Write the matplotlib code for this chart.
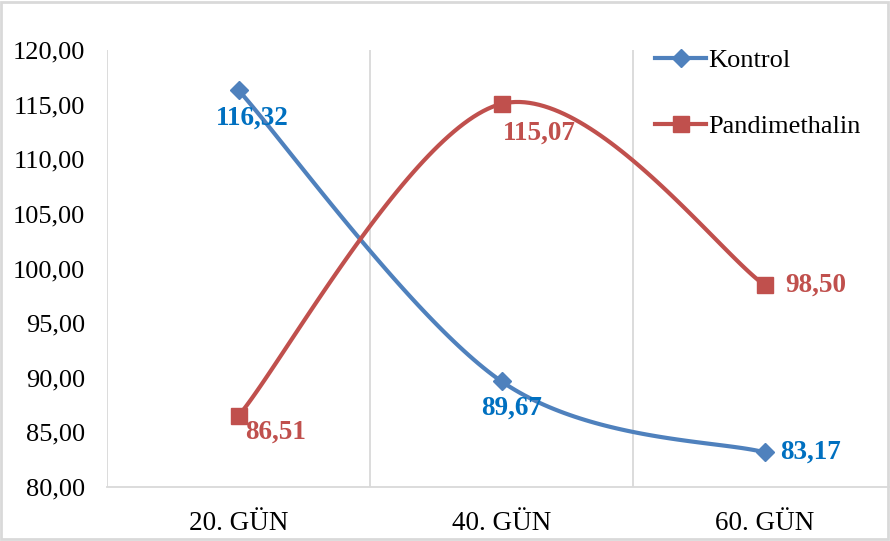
import numpy as np
import matplotlib.pyplot as plt
from matplotlib.patches import Rectangle

# Datos
gunler = ["20. GÜN", "40. GÜN", "60. GÜN"]
kontrol = [116.32, 89.67, 83.17]
pandimethalin = [86.51, 115.07, 98.50]
y_ticks = [80, 85, 90, 95, 100, 105, 110, 115, 120]

mavi = "#4F81BD"
kirmizi = "#C0504D"
mavi_etiket = "#0070C0"
gri = "#D9D9D9"

plt.rcParams["font.family"] = ["Liberation Serif", "DejaVu Serif"]


def yumusat(xs, ys, n=60):
    # Excel tarzi yumusatilmis cizgi (Catmull-Rom -> Bezier)
    p = np.column_stack([xs, ys]).astype(float)
    p = np.vstack([p[0], p, p[-1]])
    out = []
    for i in range(1, len(p) - 2):
        p0, p1, p2, p3 = p[i - 1], p[i], p[i + 1], p[i + 2]
        c1 = p1 + (p2 - p0) / 6
        c2 = p2 - (p3 - p1) / 6
        t = np.linspace(0, 1, n)[:, None]
        seg = ((1 - t) ** 3) * p1 + 3 * ((1 - t) ** 2) * t * c1 + 3 * (1 - t) * t ** 2 * c2 + t ** 3 * p2
        out.append(seg)
    s = np.vstack(out)
    return s[:, 0], s[:, 1]


fig = plt.figure(figsize=(8.9, 5.41), dpi=100)
ax = fig.add_axes([107 / 890, 1 - 487 / 541, 789 / 890, 437 / 541])

x = np.arange(len(gunler))

kx, ky = yumusat(x, kontrol)
px, py = yumusat(x, pandimethalin)

ax.plot(kx, ky, color=mavi, lw=3, solid_capstyle="round", zorder=3)
ax.plot(px, py, color=kirmizi, lw=3, solid_capstyle="round", zorder=3)
ax.plot(x, kontrol, ls="none", marker="D", ms=9.5, color=mavi, zorder=4)
ax.plot(x, pandimethalin, ls="none", marker="s", ms=11, color=kirmizi, zorder=4)

# Lejant icin ornek cizgiler
ax.plot([], [], color=mavi, lw=3, marker="D", ms=9.5, label="Kontrol")
ax.plot([], [], color=kirmizi, lw=3, marker="s", ms=11, label="Pandimethalin")
ax.legend(loc="upper left", bbox_to_anchor=(0.665, 1.058), frameon=False,
          fontsize=19, handlelength=1.9, handletextpad=0.1, labelspacing=1.62)

# Veri etiketleri
def etiket(v):
    return f"{v:.2f}".replace(".", ",")

k_ofset = [(14, -28), (10, -27), (46, 0)]
p_ofset = [(37, -16), (38, -29), (51, 0)]
for i in range(len(gunler)):
    ax.annotate(etiket(kontrol[i]), (x[i], kontrol[i]), xytext=k_ofset[i],
                textcoords="offset pixels", ha="center", va="center",
                fontsize=19.5, fontweight="bold", color=mavi_etiket, zorder=5)
    ax.annotate(etiket(pandimethalin[i]), (x[i], pandimethalin[i]), xytext=p_ofset[i],
                textcoords="offset pixels", ha="center", va="center",
                fontsize=19.5, fontweight="bold", color=kirmizi, zorder=5)

ax.set_xlim(-0.5, 2.5)
ax.set_ylim(80, 120)
ax.set_yticks(y_ticks)
ax.set_yticklabels([etiket(v) for v in y_ticks], fontsize=19)
ax.set_xticks(x)
ax.set_xticklabels(gunler, fontsize=19.5)
ax.tick_params(axis="both", length=0)
ax.tick_params(axis="y", pad=16)
ax.tick_params(axis="x", pad=17)

for xv in [-0.5, 0.5, 1.5]:
    ax.axvline(xv, color=gri, lw=1.3, zorder=1)

for side in ["top", "right", "left"]:
    ax.spines[side].set_visible(False)
ax.spines["bottom"].set_color(gri)
ax.spines["bottom"].set_linewidth(1.3)

# Grafik cercevesi
fig.patches.append(Rectangle((0.001, 0.003), 0.997, 0.994, transform=fig.transFigure,
                             fill=False, edgecolor=gri, lw=2))

fig.savefig("out.png", dpi=100)
